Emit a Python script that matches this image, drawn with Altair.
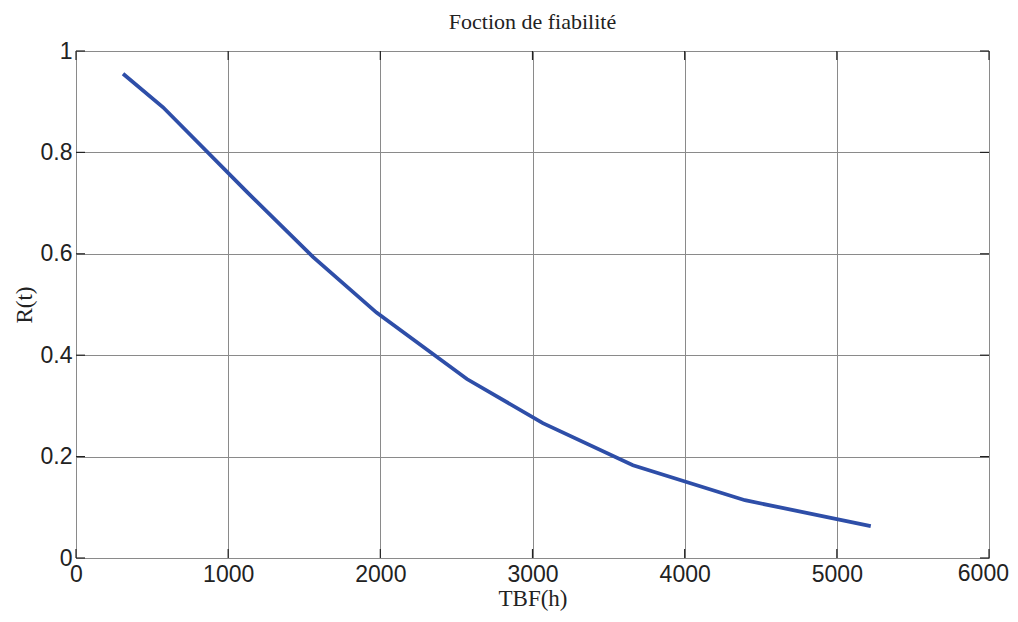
import altair as alt
import pandas as pd

# Data
tbf_hours = [309, 572, 1123, 1557, 1975, 2569, 3068, 3660, 4396, 5223]
reliability = [0.955, 0.889, 0.722, 0.594, 0.484, 0.353, 0.266, 0.183, 0.114, 0.063]
x_ticks = [0, 1000, 2000, 3000, 4000, 5000, 6000]
y_ticks = [0, 0.2, 0.4, 0.6, 0.8, 1.0]
title_text = "Foction de fiabilité"

W, H = 913, 507
TL = 9

df = pd.DataFrame({"TBF": tbf_hours, "R": reliability})
dx = pd.DataFrame({"v": x_ticks})
dy = pd.DataFrame({"v": y_ticks})
dlast = pd.DataFrame({"v": [x_ticks[-1]], "lab": [str(x_ticks[-1])]})

xscale = alt.Scale(domain=[0, 6000], nice=False, zero=False)
yscale = alt.Scale(domain=[0, 1], nice=False, zero=False)

last_x = x_ticks[-1]
xaxis = alt.Axis(values=x_ticks, format="d", grid=True, ticks=False, domain=False,
                 labelFont="Liberation Sans", labelFontSize=23, labelColor="#222",
                 labelPadding=5, title="TBF(h)", titleFont="Liberation Serif",
                 titleFontSize=23, titleFontWeight="normal", titleColor="#222",
                 titlePadding=1, gridColor="#8a8a8a", gridWidth=1, labelFlush=False,
                 labelExpr=f"datum.value == {last_x} ? '' : datum.label")
yaxis = alt.Axis(values=y_ticks, format="~g", grid=True, ticks=False, domain=False,
                 labelFont="Liberation Sans", labelFontSize=23, labelColor="#222",
                 labelPadding=4, title="R(t)", titleFont="Liberation Serif",
                 titleFontSize=23, titleFontWeight="normal", titleColor="#222",
                 titlePadding=4, gridColor="#8a8a8a", gridWidth=1, labelFlush=False)

line = alt.Chart(df).mark_line(color="#2E4EA8", strokeWidth=3.8).encode(
    x=alt.X("TBF:Q", scale=xscale, axis=xaxis),
    y=alt.Y("R:Q", scale=yscale, axis=yaxis),
)

last_label = alt.Chart(dlast).mark_text(
    font="Liberation Sans", fontSize=23, color="#222", align="right",
    baseline="top", dx=20, dy=5).encode(
    x=alt.X("v:Q", scale=xscale), y=alt.value(H), text="lab:N")

tick_style = dict(color="#222", strokeWidth=1.2)
bottom_ticks = alt.Chart(dx).mark_rule(**tick_style).encode(
    x=alt.X("v:Q", scale=xscale), y=alt.value(H), y2=alt.value(H - TL))
top_ticks = alt.Chart(dx).mark_rule(**tick_style).encode(
    x=alt.X("v:Q", scale=xscale), y=alt.value(0), y2=alt.value(TL))
left_ticks = alt.Chart(dy).mark_rule(**tick_style).encode(
    y=alt.Y("v:Q", scale=yscale), x=alt.value(0), x2=alt.value(TL))
right_ticks = alt.Chart(dy).mark_rule(**tick_style).encode(
    y=alt.Y("v:Q", scale=yscale), x=alt.value(W), x2=alt.value(W - TL))

chart = alt.layer(line, bottom_ticks, top_ticks, left_ticks, right_ticks,
                  last_label).properties(
    width=W, height=H,
    title=alt.TitleParams(title_text, font="Liberation Serif", fontSize=22,
                          fontWeight="normal", color="#222", offset=6, anchor="middle"),
    autosize=alt.AutoSizeParams(type="none"),
    padding={"left": 68, "top": 43, "right": 21, "bottom": 56},
).configure_view(stroke="#222", strokeWidth=1.5).configure(background="white")

chart.save("out.html", embed_options={"renderer": "svg", "actions": False})
